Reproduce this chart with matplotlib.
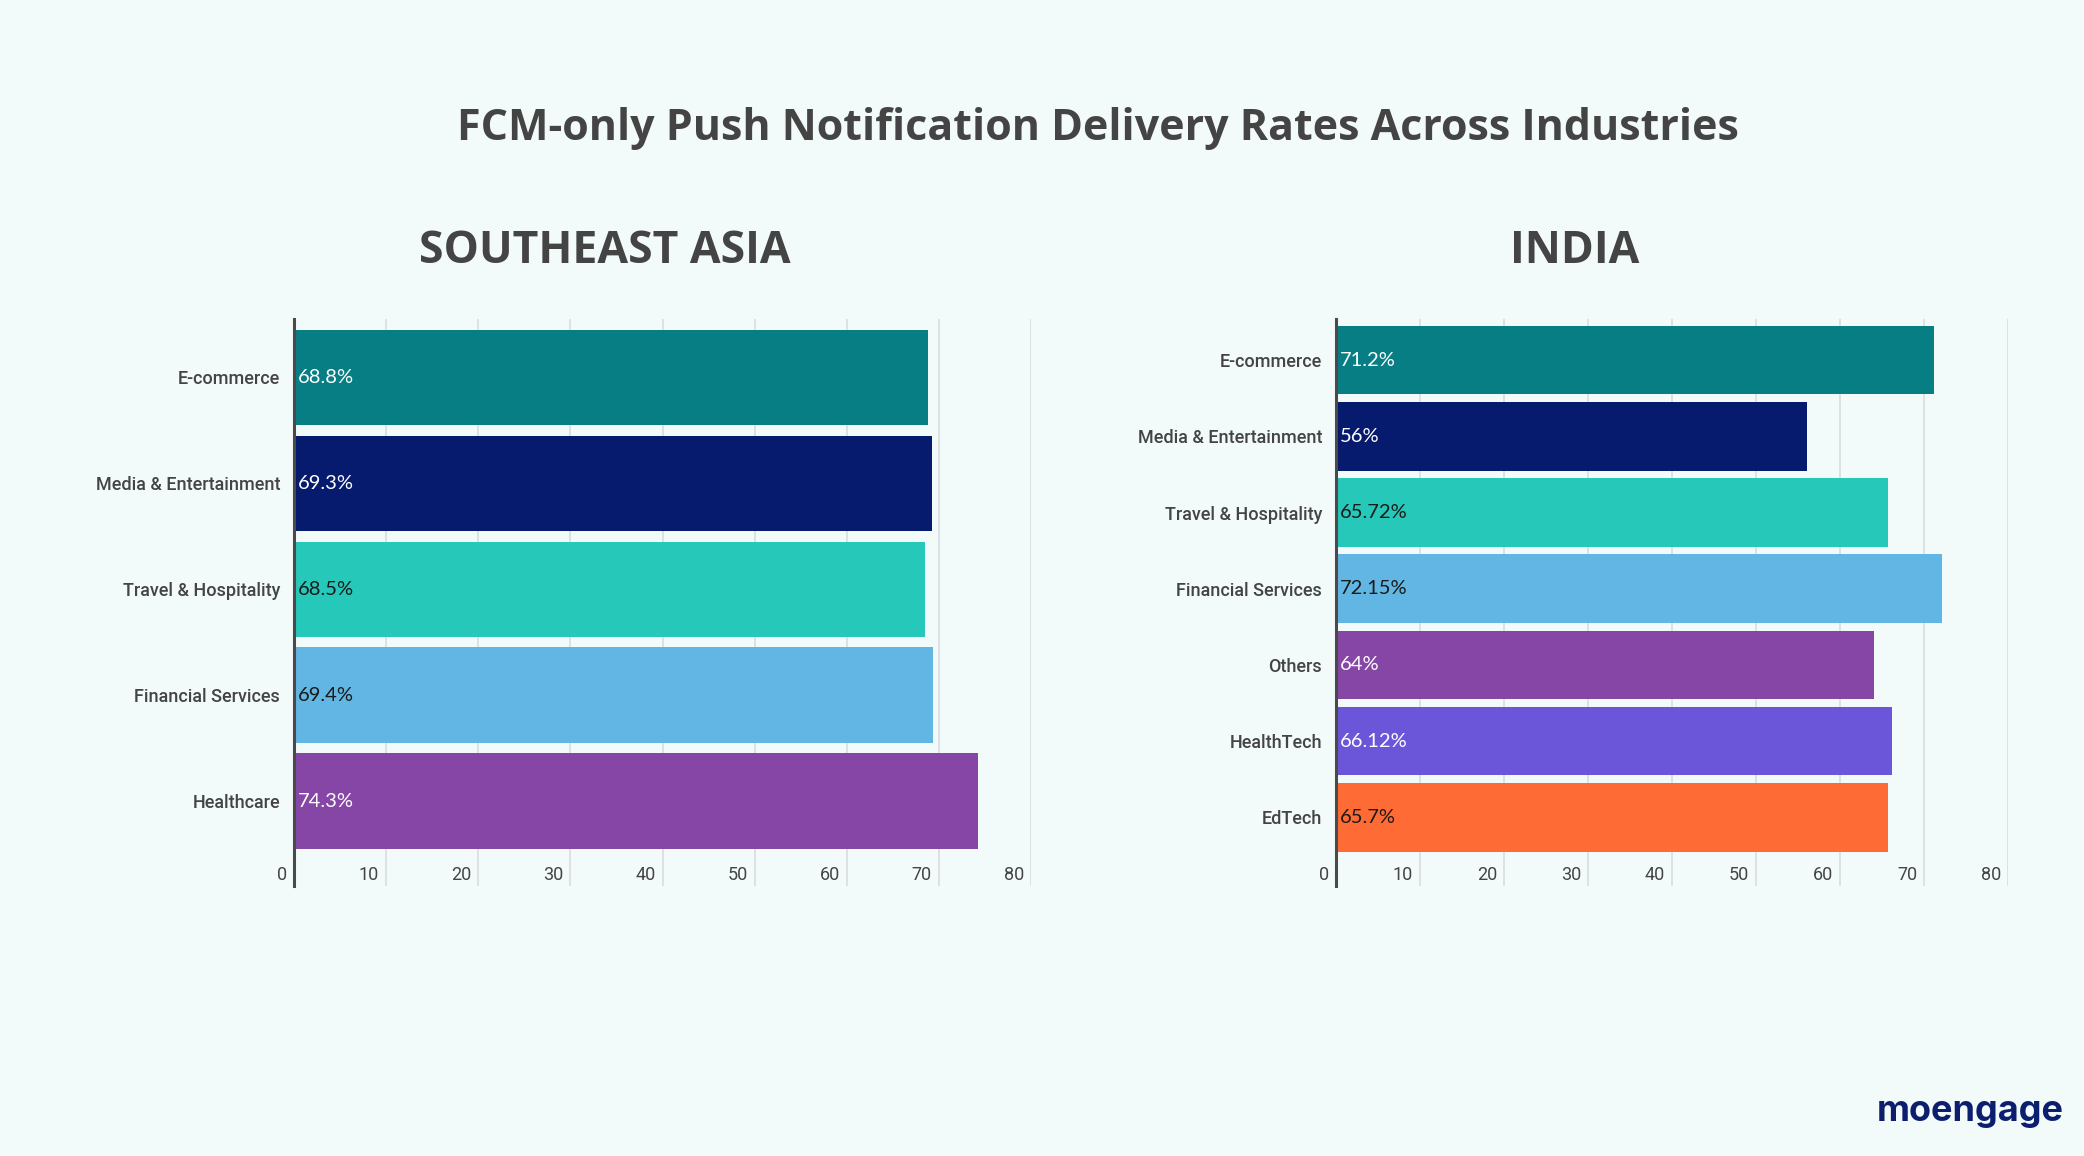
import matplotlib.pyplot as plt
import matplotlib.transforms as mtransforms

# Data
sea_labels = ['E-commerce', 'Media & Entertainment', 'Travel & Hospitality',
              'Financial Services', 'Healthcare']
sea_values = [68.8, 69.3, 68.5, 69.4, 74.3]
sea_text = ['68.8%', '69.3%', '68.5%', '69.4%', '74.3%']

india_labels = ['E-commerce', 'Media & Entertainment', 'Travel & Hospitality',
                'Financial Services', 'Others', 'HealthTech', 'EdTech']
india_values = [71.2, 56, 65.72, 72.15, 64, 66.12, 65.7]
india_text = ['71.2%', '56%', '65.72%', '72.15%', '64%', '66.12%', '65.7%']

x_ticks = [0, 10, 20, 30, 40, 50, 60, 70, 80]

sea_colors = ['#067e83', '#061a6e', '#25c8b9', '#62b6e3', '#8646a6']
india_colors = ['#067e83', '#061a6e', '#25c8b9', '#62b6e3', '#8646a6', '#6b55d9', '#ff6b35']
sea_txtcol = ['white', 'white', '#1a1a1a', '#1a1a1a', 'white']
india_txtcol = ['white', 'white', '#1a1a1a', '#1a1a1a', 'white', 'white', '#1a1a1a']

BG = '#f3fafa'
DARK = '#444444'

plt.rcParams['font.family'] = ['Roboto', 'DejaVu Sans']

fig = plt.figure(figsize=(20.84, 11.56), dpi=100, facecolor=BG)


def draw_panel(ax, labels, values, texts, colors, tcols, ylim):
    ax.set_facecolor(BG)
    y = list(range(len(labels)))
    ax.barh(y, values, height=0.9, color=colors, zorder=2)
    ax.set_xlim(0, 80)
    ax.set_ylim(*ylim)
    ax.set_xticks(x_ticks)
    ax.set_xticklabels([])
    ax.tick_params(axis='both', length=0)
    ax.set_yticks(y)
    ax.set_yticklabels(labels, fontsize=13, color=DARK, fontweight='medium')
    ax.tick_params(axis='y', pad=10)
    ax.grid(axis='x', color='#d9dde0', linewidth=1.2, zorder=0)
    for s in ['top', 'right', 'bottom']:
        ax.spines[s].set_visible(False)
    ax.spines['left'].set_color('#4a4a4a')
    ax.spines['left'].set_linewidth(2.2)
    ax.spines['left'].set_zorder(3)
    for yi, t, c in zip(y, texts, tcols):
        ax.annotate(t, (0, yi), xytext=(3, 0), textcoords='offset points',
                    va='center', ha='left', fontsize=14.5, color=c, zorder=4,
                    family=['Lato', 'DejaVu Sans'])
    trans = mtransforms.blended_transform_factory(ax.transData, ax.transAxes)
    for tk in x_ticks:
        ax.annotate(str(tk), (tk, 0.019), xycoords=trans, xytext=(-5, 0),
                    textcoords='offset points', ha='right', va='center',
                    fontsize=13, color=DARK)


ax1 = fig.add_axes([0.1411, 0.2336, 0.3536, 0.4905])
draw_panel(ax1, sea_labels, sea_values, sea_text, sea_colors, sea_txtcol, (4.8, -0.55))

ax2 = fig.add_axes([0.6411, 0.2336, 0.3225, 0.4905])
draw_panel(ax2, india_labels, india_values, india_text, india_colors, india_txtcol, (6.9, -0.54))

fig.text(0.527, 1 - 128 / 1156, 'FCM-only Push Notification Delivery Rates Across Industries',
         ha='center', va='center', fontsize=31, fontweight='bold', color=DARK,
         family=['Open Sans', 'DejaVu Sans'])
fig.text(605 / 2084, 1 - 251 / 1156, 'SOUTHEAST ASIA', ha='center', va='center',
         fontsize=32, fontweight='bold', color=DARK, family=['Open Sans', 'DejaVu Sans'])
fig.text(1575 / 2084, 1 - 251 / 1156, 'INDIA', ha='center', va='center',
         fontsize=32, fontweight='bold', color=DARK, family=['Open Sans', 'DejaVu Sans'])
fig.text(1970 / 2084, 1 - 1111 / 1156, 'moengage', ha='center', va='center',
         fontsize=26, fontweight='bold', color='#0b1f6e', family=['Inter', 'DejaVu Sans'])

fig.savefig('out.png', dpi=100, facecolor=BG)
